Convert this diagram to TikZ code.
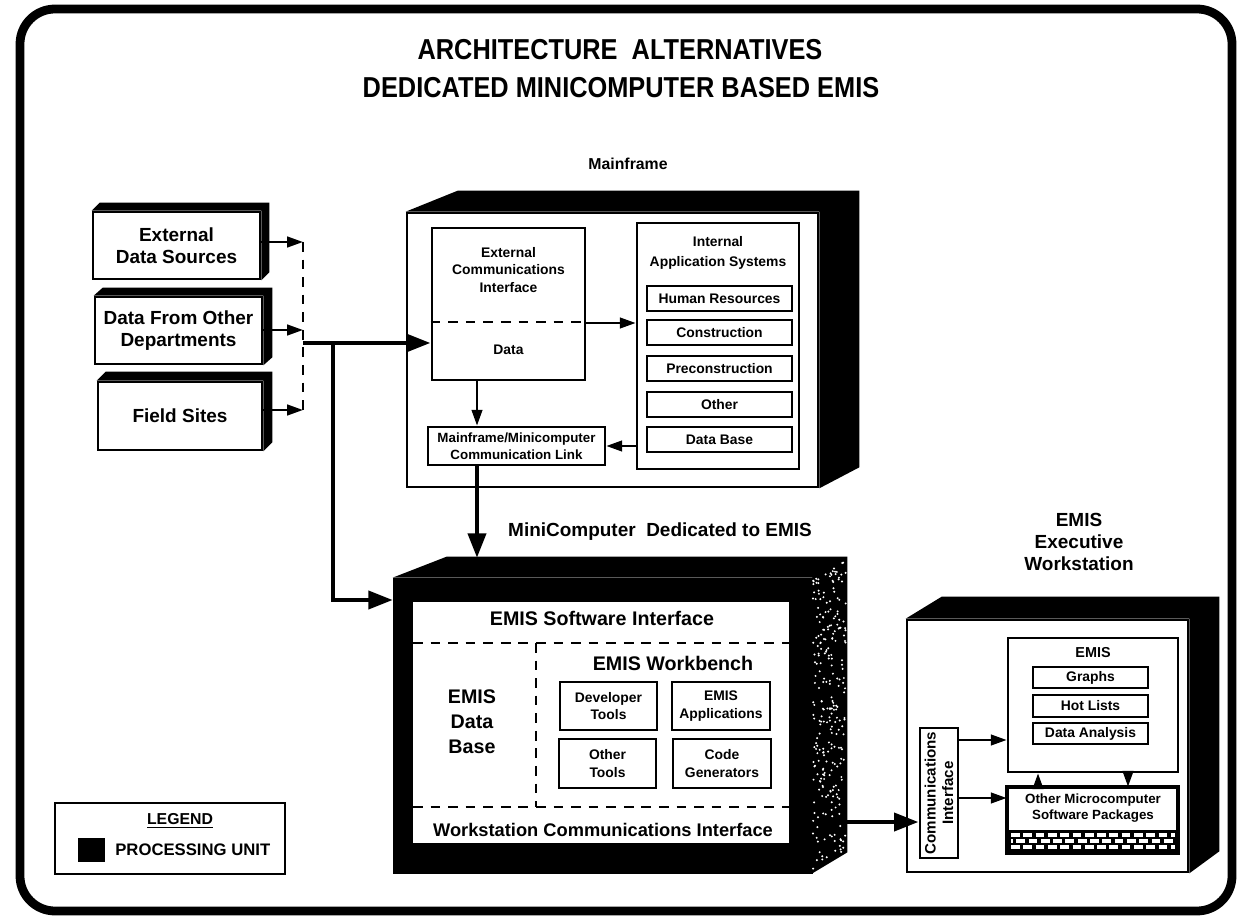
\documentclass[tikz,border=0pt]{standalone}
\usepackage{fontspec}
\setmainfont{Liberation Sans}
\usepackage{graphicx}
\usetikzlibrary{arrows.meta,calc}
\tikzset{
 box/.style={draw, line width=1.5pt, fill=white, inner sep=0pt, align=center},
 wh/.style 2 args={minimum width=#1*0.02cm, minimum height=#2*0.02cm},
 lbl/.style={inner sep=0pt, align=center, font=\bfseries\fontsize{7.9pt}{9.8pt}\selectfont},
 big/.style={inner sep=0pt, align=center, font=\bfseries\fontsize{10.8pt}{12.6pt}\selectfont},
 arr/.style={line width=1.4pt, -{Triangle[length=9pt,width=6pt]}},
 tarr/.style={line width=2.8pt, -{Triangle[length=14pt,width=10pt]}},
 dsh/.style={line width=1.4pt, dash pattern=on 5.5pt off 4.5pt},
}
% #1 node, #2 top-left slant dx, #3 right depth dx, #4 depth dy
\newcommand\solidback[4]{\fill[black] (#1.north west) -- ++(#2,-#4) -- ($(#1.north east)+(#3,-#4)$) -- ($(#1.south east)+(#3,-#4)$) -- (#1.south east) -- (#1.north east) -- cycle;}
\begin{document}
\begin{tikzpicture}[x=0.02cm,y=-0.02cm]
\useasboundingbox (0,0) rectangle (1240,918);
\draw[line width=5pt, rounded corners=0.7cm] (20,9) rectangle (1232,911);
% title
\node[inner sep=0pt, font=\bfseries\fontsize{16.4pt}{18pt}\selectfont] (t1) at (620,50) {\scalebox{0.88}[1]{ARCHITECTURE\ \ ALTERNATIVES}};
\node[inner sep=0pt, font=\bfseries\fontsize{16.4pt}{18pt}\selectfont] (t2) at (621,88) {\scalebox{0.88}[1]{DEDICATED MINICOMPUTER BASED EMIS}};
% left sources
\node[box, big, wh={167}{67}] (ext) at (176.5,245.5) {External\\Data Sources};
\solidback{ext}{8}{8}{8}
\node[box, big, wh={167}{67}] (dfo) at (178.5,330.5) {Data From Other\\Departments};
\solidback{dfo}{9}{9}{8}
\node[box, big, wh={164}{68}] (fs) at (180,416) {Field Sites};
\solidback{fs}{9}{9}{9}
\coordinate (dtop) at (303,242);
\coordinate (dmid) at (303,330);
\coordinate (dbot) at (303,410);
\coordinate (j) at (303,343);
\coordinate (jb) at (333,343);
\coordinate (mb) at (333,600);
\draw[dsh] (dtop) -- (dbot);
\draw[arr] (ext.east |- dtop) -- (dtop);
\draw[arr] (dfo.east |- dmid) -- (dmid);
\draw[arr] (fs.east |- dbot) -- (dbot);
% mainframe
\node[inner sep=0pt, font=\bfseries\fontsize{9pt}{11pt}\selectfont] (mflab) at (628,164) {Mainframe};
\node[box, wh={411}{274}] (mf) at (612.5,350) {};
\solidback{mf}{52}{40}{21}
\node[box, wh={153}{152}] (eci) at (508.5,304) {};
\coordinate (ecid) at (0,322);
\draw[dsh] (eci.west |- ecid) -- (eci.east |- ecid);
\node[lbl] (ecit) at (508.5,270) {External\\Communications\\Interface};
\node[lbl] (ecid2) at (508.5,350) {Data};
\node[box, wh={162}{246}] (ias) at (718,346) {};
\node[lbl, font=\bfseries\fontsize{7.9pt}{11pt}\selectfont] (iast) at (718,253) {Internal\\Application Systems};
\node[box, lbl, wh={145}{25}] (hr) at (719.5,298.5) {Human Resources};
\node[box, lbl, wh={145}{25}] (con) at (719.5,332.5) {Construction};
\node[box, lbl, wh={145}{25}] (pre) at (719.5,368.5) {Preconstruction};
\node[box, lbl, wh={145}{25}] (oth) at (719.5,404.5) {Other};
\node[box, lbl, wh={145}{25}] (db) at (719.5,439.5) {Data Base};
\node[box, lbl, wh={177}{38}, font=\bfseries\fontsize{7.6pt}{9.4pt}\selectfont] (mm) at (516.5,446) {Mainframe/Minicomputer\\Communication Link};
\coordinate (x477) at (477,0);
\coordinate (iasy) at (0,323);
\draw[arr] (eci.east |- iasy) -- (ias.west |- iasy);
\draw[arr] (eci.south -| x477) -- (mm.north -| x477);
\draw[arr] (ias.west |- mm.east) -- (mm.east);
\draw[tarr] (j) -- (j -| eci.west);
\draw[tarr] (jb) -- (mb) -- (393,600);
% minicomputer
\node[inner sep=0pt, font=\bfseries\fontsize{10.8pt}{12pt}\selectfont] (minilab) at (660,532) {MiniComputer\ \ Dedicated to EMIS};
\node[draw, fill=black, inner sep=0pt, wh={419}{295}] (mini) at (602.5,725.5) {};
\solidback{mini}{54}{35}{21}
\pgfmathsetseed{11}
\foreach \i in {1,...,260}{
  \pgfmathsetmacro\uu{rnd}\pgfmathsetmacro\vv{rnd}
  \fill[white] ({813+33*\uu},{580+290*\vv-21*\uu}) circle (1.1);
}
\fill[white] (413,602) rectangle (789,843);
\draw[tarr] (477,465) -- (477,558);
\node[inner sep=0pt, font=\bfseries\fontsize{11.2pt}{13pt}\selectfont] (esi) at (602,618) {EMIS Software Interface};
\draw[dsh] (413,643) -- (789,643);
\draw[dsh] (536,643) -- (536,807);
\draw[dsh] (413,807) -- (789,807);
\node[inner sep=0pt, align=center, font=\bfseries\fontsize{11.2pt}{14.2pt}\selectfont] (edb) at (472,722) {EMIS\\Data\\Base};
\node[inner sep=0pt, font=\bfseries\fontsize{11.2pt}{13pt}\selectfont] (ewb) at (673,663) {EMIS Workbench};
\node[box, lbl, wh={97}{48}] (dev) at (608.5,706) {Developer\\Tools};
\node[box, lbl, wh={98}{48}] (app) at (721,706) {EMIS\\Applications};
\node[box, lbl, wh={97}{49}] (otl) at (607.5,763.5) {Other\\Tools};
\node[box, lbl, wh={98}{49}] (cg) at (722,763.5) {Code\\Generators};
\node[inner sep=0pt, font=\bfseries\fontsize{10.4pt}{12pt}\selectfont] (wci) at (603,830) {Workstation Communications Interface};
% workstation
\node[big] (wslab) at (1079,542) {EMIS\\Executive\\Workstation};
\node[box, wh={281}{252}] (ws) at (1047.5,746) {};
\solidback{ws}{36}{30}{22}
\node[box, wh={38}{130}] (ci) at (939,793) {};
\node[lbl, rotate=90, font=\bfseries\fontsize{8.6pt}{10pt}\selectfont] (cit) at (ci) {Communications\\Interface};
\coordinate (minir) at (847,822);
\draw[tarr] (minir) -- (minir -| ci.west);
\node[box, wh={170}{134}] (emis) at (1093,705) {};
\node[lbl, font=\bfseries\fontsize{8.2pt}{10pt}\selectfont] (emist) at (1093,653) {EMIS};
\node[box, lbl, wh={115}{21}] (gr) at (1090.5,677.5) {Graphs};
\node[box, lbl, wh={115}{22}] (hl) at (1090.5,706) {Hot Lists};
\node[box, lbl, wh={115}{21}] (da) at (1090.5,733.5) {Data Analysis};
\node[box, wh={169}{64}] (om) at (1092.5,820) {};
\fill[black] (1008,830) rectangle (1177,852);
\foreach \yy/\ph in {835/0, 841/4, 847/0}{
  \draw[white, line width=2.2pt, dash pattern=on 5pt off 2pt, dash phase=\ph pt] (1011,\yy) -- (1175,\yy);
}
\draw[line width=1.5pt] (om.north west) rectangle (om.south east);
\node[lbl, font=\bfseries\fontsize{7.6pt}{9.4pt}\selectfont] (omt) at (1093,808) {Other Microcomputer\\Software Packages};
\coordinate (ya) at (0,740);
\coordinate (yb) at (0,798);
\coordinate (xl) at (1038,0);
\coordinate (xr) at (1128,0);
\draw[arr] (ci.east |- ya) -- (emis.west |- ya);
\draw[arr] (ci.east |- yb) -- (om.west |- yb);
\draw[arr] (om.north -| xl) -- (emis.south -| xl);
\draw[arr] (emis.south -| xr) -- (om.north -| xr);
% legend
\node[draw, line width=1.4pt, inner sep=0pt, wh={230}{71}] (leg) at (170,838.5) {};
\node[inner sep=0pt, font=\bfseries\fontsize{9pt}{11pt}\selectfont] (legt) at (180,821) {\underline{LEGEND}};
\node[fill=black, inner sep=0pt, wh={27}{24}] (sq) at (91.5,850) {};
\node[inner sep=0pt, anchor=west, font=\bfseries\fontsize{9.5pt}{11pt}\selectfont] (pu) at (115,850) {PROCESSING UNIT};
\end{tikzpicture}
\end{document}
